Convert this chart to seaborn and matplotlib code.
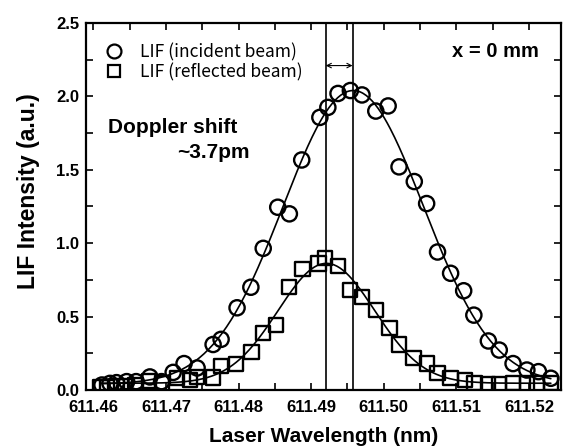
import numpy as np
import pandas as pd
import matplotlib
matplotlib.use("Agg")
import matplotlib.pyplot as plt
from matplotlib.ticker import MultipleLocator, FormatStrFormatter
from matplotlib.lines import Line2D
import seaborn as sns

# ---- data ----
incident_wl = [611.4612, 611.4623, 611.4632, 611.4646, 611.4659, 611.4678, 611.4694, 611.4710,
               611.4725, 611.4743, 611.4765, 611.4776, 611.4798, 611.4817, 611.4834, 611.4854,
               611.4870, 611.4887, 611.4912, 611.4923, 611.4937, 611.4954, 611.4970, 611.4989,
               611.5006, 611.5021, 611.5042, 611.5059, 611.5074, 611.5092, 611.5110, 611.5124,
               611.5144, 611.5159, 611.5178, 611.5197, 611.5213, 611.5230]
incident_lif = [0.034, 0.045, 0.050, 0.057, 0.057, 0.089, 0.057, 0.120,
                0.180, 0.150, 0.310, 0.345, 0.560, 0.700, 0.965, 1.245,
                1.200, 1.567, 1.857, 1.925, 2.020, 2.040, 2.010, 1.900,
                1.935, 1.520, 1.420, 1.270, 0.940, 0.795, 0.676, 0.510,
                0.334, 0.272, 0.180, 0.136, 0.125, 0.080]

reflected_wl = [611.4610, 611.4619, 611.4632, 611.4644, 611.4658, 611.4677, 611.4695, 611.4715,
                611.4733, 611.4743, 611.4765, 611.4776, 611.4797, 611.4818, 611.4834, 611.4852,
                611.4870, 611.4888, 611.4910, 611.4919, 611.4937, 611.4953, 611.4970, 611.4989,
                611.5008, 611.5021, 611.5041, 611.5059, 611.5074, 611.5092, 611.5112, 611.5125,
                611.5144, 611.5159, 611.5178, 611.5197, 611.5211, 611.5230]
reflected_lif = [0.020, 0.023, 0.025, 0.025, 0.034, 0.063, 0.045, 0.080,
                 0.070, 0.090, 0.085, 0.165, 0.175, 0.260, 0.390, 0.443,
                 0.700, 0.825, 0.862, 0.897, 0.845, 0.680, 0.636, 0.545,
                 0.420, 0.310, 0.220, 0.180, 0.114, 0.080, 0.070, 0.050,
                 0.040, 0.040, 0.050, 0.045, 0.045, 0.050]

peak_lines = [611.4920, 611.4957]
arrow_y = 2.21
legend_labels = ["LIF (incident beam)", "LIF (reflected beam)"]


def gauss_fit(x, y):
    """Least-squares Gaussian + baseline fit of the measured points."""
    x = np.asarray(x); y = np.asarray(y)
    best = None
    for c in np.arange(611.486, 611.500, 0.00005):
        for s in np.arange(0.005, 0.015, 0.00005):
            g = np.exp(-0.5 * ((x - c) / s) ** 2)
            A = np.column_stack([g, np.ones_like(g)])
            coef, *_ = np.linalg.lstsq(A, y, rcond=None)
            r = np.sum((A @ coef - y) ** 2)
            if best is None or r < best[0]:
                best = (r, c, s, coef)
    _, c, s, coef = best
    xf = np.linspace(x.min(), x.max(), 300)
    return xf, coef[0] * np.exp(-0.5 * ((xf - c) / s) ** 2) + coef[1]


df_inc = pd.DataFrame({"wl": incident_wl, "lif": incident_lif})
df_ref = pd.DataFrame({"wl": reflected_wl, "lif": reflected_lif})
xf_i, yf_i = gauss_fit(incident_wl, incident_lif)
xf_r, yf_r = gauss_fit(reflected_wl, reflected_lif)
fit_inc = pd.DataFrame({"wl": xf_i, "lif": yf_i})
fit_ref = pd.DataFrame({"wl": xf_r, "lif": yf_r})

sns.set_theme(style="ticks")
plt.rcParams["font.family"] = ["Liberation Sans", "DejaVu Sans"]
plt.rcParams["text.color"] = "black"
plt.rcParams["axes.labelcolor"] = "black"
plt.rcParams["xtick.color"] = "black"
plt.rcParams["ytick.color"] = "black"

fig = plt.figure(figsize=(5.64, 4.48), dpi=100)
ax = fig.add_axes([86 / 564, 1 - 390 / 448, (561 - 86) / 564, (390 - 23) / 448])

sns.lineplot(data=fit_inc, x="wl", y="lif", ax=ax, color="black", lw=1.2, zorder=2)
sns.lineplot(data=fit_ref, x="wl", y="lif", ax=ax, color="black", lw=1.2, zorder=2)

sns.scatterplot(data=df_inc, x="wl", y="lif", ax=ax, marker="o", s=120, color="black", zorder=3)
sns.scatterplot(data=df_ref, x="wl", y="lif", ax=ax, marker="s", s=105, color="black", zorder=3)
for coll in ax.collections:
    coll.set_facecolor("none")
    coll.set_edgecolor("black")
    coll.set_linewidth(1.7)

for v in peak_lines:
    ax.axvline(v, color="black", lw=1.2, zorder=1)
ax.annotate("", xy=(peak_lines[1], arrow_y), xytext=(peak_lines[0], arrow_y),
            arrowprops=dict(arrowstyle="<->", lw=0.8, color="black",
                            shrinkA=0, shrinkB=0, mutation_scale=8))

ax.set_xlim(611.459, 611.5244)
ax.set_ylim(0.0, 2.5)
ax.xaxis.set_major_locator(MultipleLocator(0.01))
ax.xaxis.set_minor_locator(MultipleLocator(0.005))
ax.yaxis.set_major_locator(MultipleLocator(0.5))
ax.yaxis.set_minor_locator(MultipleLocator(0.25))
ax.xaxis.set_major_formatter(FormatStrFormatter("%.2f"))
ax.yaxis.set_major_formatter(FormatStrFormatter("%.1f"))
ax.tick_params(which="both", direction="in", top=True, right=True, length=5, width=1.2,
               color="black")
ax.tick_params(which="major", labelsize=12)
ax.tick_params(axis="x", which="major", pad=7)
ax.tick_params(axis="y", which="major", pad=5)
for lab in ax.get_xticklabels() + ax.get_yticklabels():
    lab.set_fontweight("bold")
for sp in ax.spines.values():
    sp.set_linewidth(1.6)
    sp.set_color("black")

ax.set_xlabel("Laser Wavelength (nm)", fontsize=15, fontweight="bold", labelpad=9)
ax.set_ylabel("LIF Intensity (a.u.)", fontsize=16.5, fontweight="bold")
ax.yaxis.set_label_coords(-0.097, 0.542)

ax.text(0.861, 0.921, "x = 0 mm", transform=ax.transAxes, ha="center", va="center",
        fontsize=14.5, fontweight="bold")
ax.text(0.046, 0.714, "Doppler shift", transform=ax.transAxes, ha="left", va="center",
        fontsize=15, fontweight="bold")
ax.text(0.192, 0.646, "~3.7pm", transform=ax.transAxes, ha="left", va="center",
        fontsize=15, fontweight="bold")

handles = [Line2D([], [], ls="", marker="o", ms=10, mfc="none", mec="black", mew=1.6),
           Line2D([], [], ls="", marker="s", ms=9, mfc="none", mec="black", mew=1.6)]
ax.legend(handles, legend_labels, loc="upper left", bbox_to_anchor=(0.015, 0.978),
          frameon=False, handlelength=1.0, handletextpad=1.0, labelspacing=0.1,
          borderpad=0.2, prop={"family": ["Noto Sans CJK JP", "DejaVu Sans"], "size": 12.5})

fig.savefig("out.png", dpi=100)
